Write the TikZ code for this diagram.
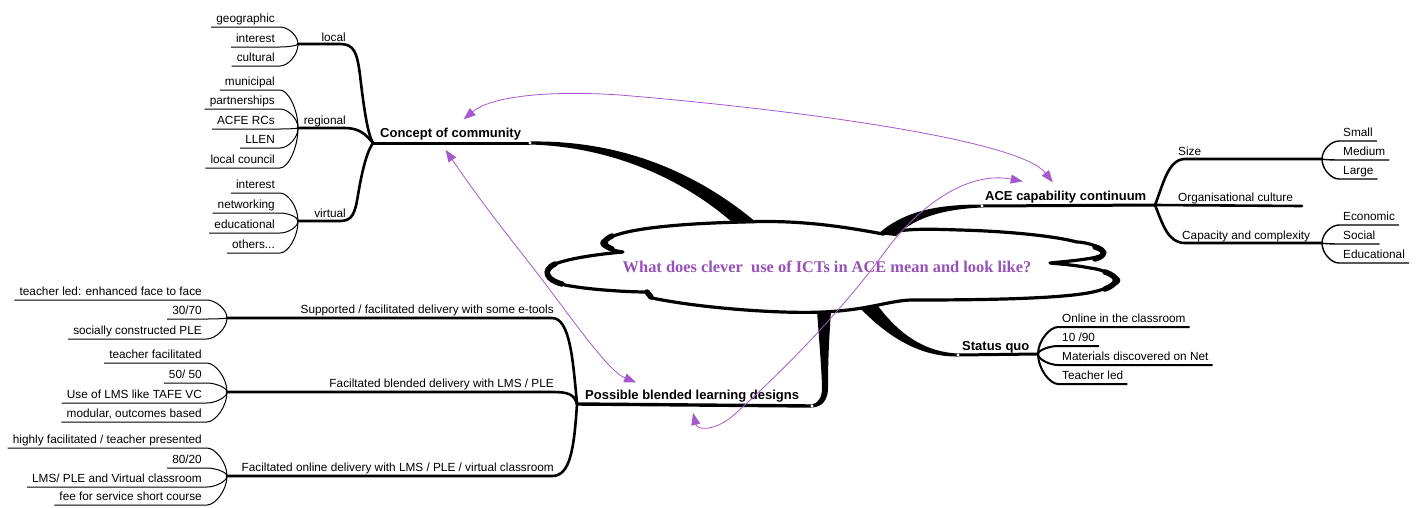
\documentclass[tikz,border=0pt]{standalone}
\usepackage{fontspec}
\setmainfont{Liberation Sans}
\newfontfamily\cloudfont{Liberation Serif}
\usetikzlibrary{arrows.meta, calc}
\definecolor{linkpurple}{RGB}{168, 88, 206}
\definecolor{askpurple}{RGB}{150, 82, 184}
\newcommand{\leaffont}{\fontsize{11.8}{14}\selectfont}
\newcommand{\topicfont}{\fontsize{13}{15}\selectfont\bfseries}

\tikzset{
  branch/.style={line width=2.6pt, line cap=round, line join=round},
  twig/.style={line width=1pt},
  twigr/.style={line width=1.4pt},
  lobe/.style={line width=5.5pt, line cap=round},
  leafl/.style={font=\leaffont, inner xsep=5pt, inner ysep=2pt, text height=8.5pt, text depth=2.5pt, anchor=south east},
  leafr/.style={font=\leaffont, inner xsep=4pt, inner ysep=2pt, text height=8.5pt, text depth=2.5pt, anchor=south west},
  sub/.style={font=\leaffont, inner sep=0pt},
  topic/.style={font=\topicfont, inner sep=0pt},
  link/.style={draw=linkpurple, line width=0.8pt, {Triangle[length=12pt,width=9pt]}-{Triangle[length=12pt,width=9pt]}}
}

\begin{document}
\begin{tikzpicture}[x=1pt, y=-1pt]
  \useasboundingbox[fill=white] (0,0) rectangle (1424,507);

  % cloud
  \draw[line width=3.2pt, line join=round]
    (883,234) .. controls (830,224) and (790,220) .. (743,222)
    .. controls (700,223) and (650,226) .. (623,233)
    .. controls (612,236) and (600,240) .. (602,244)
    .. controls (604,248) and (615,251) .. (623,252)
    .. controls (600,254) and (570,258) .. (555,264)
    .. controls (540,270) and (545,280) .. (565,285)
    .. controls (590,290) and (630,292) .. (647,292)
    .. controls (652,294) and (648,298) .. (652,298)
    .. controls (700,308) and (780,314) .. (823,312)
    .. controls (870,310) and (890,300) .. (913,300)
    .. controls (980,300) and (1060,299) .. (1093,292)
    .. controls (1110,288) and (1122,282) .. (1118,279)
    .. controls (1114,274) and (1100,269) .. (1090,268)
    .. controls (1075,265) and (1060,264) .. (1050,263)
    .. controls (1070,261) and (1108,258) .. (1105,252)
    .. controls (1100,246) and (1085,242) .. (1077,242)
    .. controls (1050,235) and (1000,231) .. (960,230)
    .. controls (930,229) and (905,228) .. (883,234) -- cycle;
  \draw[lobe] (612,236) .. controls (603,240) and (602,245) .. (612,249);
  \draw[lobe] (555,264) .. controls (542,270) and (546,280) .. (562,284);
  \draw[lobe] (647,292) -- (651,297);
  \draw[lobe] (1095,247) .. controls (1106,250) and (1106,256) .. (1095,259);
  \draw[lobe] (1105,272) .. controls (1120,277) and (1118,284) .. (1105,289);
  \node[font=\cloudfont\fontsize{16.4}{18}\selectfont\bfseries, text=askpurple] (ask) at (827,267) {What does clever~ use of ICTs in ACE mean and look like?};

  % main branches
  \fill (530,141.5) .. controls (625,140) and (700,175) .. (757,223) -- (733,223) .. controls (690,185) and (620,147) .. (530,144.5) -- cycle;
  \fill (878,234) .. controls (905,210) and (940,204.5) .. (982,204.5) -- (982,207.5) .. controls (945,209) and (915,217) .. (896,236) -- cycle;
  \fill (878,306) .. controls (900,335) and (925,352) .. (958,353.5) -- (958,356.5) .. controls (920,357) and (888,337) .. (860,308) -- cycle;
  \fill (817,311) .. controls (820,350) and (822,378) .. (822,388) .. controls (822,398) and (818,403) .. (812,404.5)
     -- (812,407.5) .. controls (822,407) and (828,400) .. (828,388) .. controls (828,360) and (829,340) .. (831,311) -- cycle;

  \coordinate (dcc) at (530,143);
  \coordinate (dace) at (982,206);
  \coordinate (dsq) at (958,355);
  \coordinate (dpb) at (812,406);
  \coordinate (jcc) at (373,143);
  \coordinate (jace) at (1155,205);
  \coordinate (jsq) at (1038,354);
  \coordinate (jpb) at (577,404);

  \draw[line width=3pt] (jcc) -- (dcc);
  \draw[line width=3pt] (dace) -- (jace);
  \draw[line width=3pt] (dsq) -- (jsq);
  \draw[line width=3.4pt] (dpb) -- (jpb);
  \foreach \d in {dcc, dace, dsq, dpb}
    \fill[white] (\d) circle (1.6);

  \node[topic, anchor=base west] (cc) at (380,137) {Concept of community};
  \node[topic, anchor=base west] (ace) at (985,200) {ACE capability continuum};
  \node[topic, anchor=base west] (sq) at (962,350) {Status quo};
  \node[topic, anchor=base west] (pb) at (585,399) {Possible blended learning designs};

  % concept of community
  \coordinate (jloc) at (298,44);
  \coordinate (jreg) at (298,128);
  \coordinate (jvir) at (298,221);
  \draw[branch] (jloc) -- (340,44) .. controls (354,44) and (357,52) .. (360,75) .. controls (364,110) and (368,135) .. (jcc);
  \draw[branch] (jreg) -- (345,128) .. controls (360,128) and (366,135) .. (jcc);
  \draw[branch] (jvir) -- (340,221) .. controls (352,221) and (355,214) .. (358,195) .. controls (363,165) and (368,150) .. (jcc);
  \node[sub, anchor=base east] (local) at (346,41) {local};
  \node[sub, anchor=base east] (regional) at (346,124) {regional};
  \node[sub, anchor=base east] (virtual) at (346,217) {virtual};

  \foreach \lbl/\y [count=\i] in {geographic/27, interest/47, cultural/66} {
    \node[leafl] (loc\i) at (280,\y) {\lbl};
    \draw[twig] (jloc) .. controls ($(jloc)!.5!(jloc |- loc\i.south east)$) and +(8,0) .. (loc\i.south east) -- (loc\i.south west);
  }
  \foreach \lbl/\y [count=\i] in {municipal/90, partnerships/109, ACFE RCs/129, LLEN/148, local council/168} {
    \node[leafl] (reg\i) at (280,\y) {\lbl};
    \draw[twig] (jreg) .. controls ($(jreg)!.5!(jreg |- reg\i.south east)$) and +(8,0) .. (reg\i.south east) -- (reg\i.south west);
  }
  \foreach \lbl/\y [count=\i] in {interest/193, networking/213, educational/233, {others.{}.{}.}/253} {
    \node[leafl] (vir\i) at (280,\y) {\lbl};
    \draw[twig] (jvir) .. controls ($(jvir)!.5!(jvir |- vir\i.south east)$) and +(8,0) .. (vir\i.south east) -- (vir\i.south west);
  }

  % ACE capability continuum
  \coordinate (jsize) at (1322,159);
  \coordinate (jcap) at (1322,243);
  \coordinate (eorg) at (1302,206);
  \draw[branch] (jace) .. controls (1163,185) and (1168,159) .. (1185,159) -- (jsize);
  \draw[branch] (jace) -- (eorg);
  \draw[branch] (jace) .. controls (1163,225) and (1168,243) .. (1185,243) -- (jcap);
  \node[sub, anchor=base west] (size) at (1178,155) {Size};
  \node[sub, anchor=base west] (org) at (1178,201) {Organisational culture};
  \node[sub, anchor=base west] (cap) at (1182,239) {Capacity and complexity};

  \foreach \lbl/\y [count=\i] in {Small/141, Medium/160, Large/179} {
    \node[leafr] (siz\i) at (1339,\y) {\lbl};
    \draw[twigr] (jsize) .. controls ($(jsize)!.5!(jsize |- siz\i.south west)$) and +(-8,0) .. (siz\i.south west) -- (siz\i.south east);
  }
  \foreach \lbl/\y [count=\i] in {Economic/225, Social/244, Educational/263} {
    \node[leafr] (cpx\i) at (1339,\y) {\lbl};
    \draw[twigr] (jcap) .. controls ($(jcap)!.5!(jcap |- cpx\i.south west)$) and +(-8,0) .. (cpx\i.south west) -- (cpx\i.south east);
  }

  % status quo
  \foreach \lbl/\y [count=\i] in {Online in the classroom/327, {10 /90}/346, Materials discovered on Net/365, Teacher led/384} {
    \node[leafr] (sq\i) at (1058,\y) {\lbl};
    \draw[line width=2pt] (jsq) .. controls ($(jsq)!.5!(jsq |- sq\i.south west)$) and +(-8,0) .. (sq\i.south west) -- (sq\i.south east);
  }

  % possible blended learning designs
  \coordinate (jsup) at (227,318);
  \coordinate (jfb) at (227,392);
  \coordinate (jfo) at (227,476);
  \draw[branch] (jpb) .. controls (573,360) and (570,318) .. (552,318) -- (jsup);
  \draw[branch] (jpb) .. controls (574,394) and (568,392) .. (552,392) -- (jfb);
  \draw[branch] (jpb) .. controls (574,450) and (570,476) .. (552,476) -- (jfo);
  \node[sub, anchor=base east] (sup) at (554,313) {Supported / facilitated delivery with some e-tools};
  \node[sub, anchor=base east] (fb) at (554,387) {Faciltated blended delivery with LMS / PLE};
  \node[sub, anchor=base east] (fo) at (554,471) {Faciltated online delivery with LMS / PLE / virtual classroom};

  \foreach \lbl/\y [count=\i] in {teacher led: enhanced face to face/300, {30/70}/319, socially constructed PLE/339} {
    \node[leafl] (sup\i) at (207,\y) {\lbl};
    \draw[twig] (jsup) .. controls ($(jsup)!.5!(jsup |- sup\i.south east)$) and +(8,0) .. (sup\i.south east) -- (sup\i.south west);
  }
  \foreach \lbl/\y [count=\i] in {teacher facilitated/363, {50/ 50}/383, Use of LMS like TAFE VC/403, {modular, outcomes based}/422} {
    \node[leafl] (fb\i) at (207,\y) {\lbl};
    \draw[twig] (jfb) .. controls ($(jfb)!.5!(jfb |- fb\i.south east)$) and +(8,0) .. (fb\i.south east) -- (fb\i.south west);
  }
  \foreach \lbl/\y [count=\i] in {{highly facilitated / teacher presented}/448, {80/20}/468, {LMS/ PLE and Virtual classroom}/487, fee for service short course/505} {
    \node[leafl] (fo\i) at (207,\y) {\lbl};
    \draw[twig] (jfo) .. controls ($(jfo)!.5!(jfo |- fo\i.south east)$) and +(8,0) .. (fo\i.south east) -- (fo\i.south west);
  }

  % links
  \draw[link] ([xshift=13pt,yshift=8pt]cc.north) .. controls (490,97) and (545,90) .. (620,95)
    .. controls (800,110) and (1020,140) .. ([xshift=-13pt,yshift=8pt]ace.north);
  \draw[link] ([xshift=-5pt,yshift=-10pt]cc.south) .. controls (490,215) and (520,250) .. (550,290)
    .. controls (580,330) and (610,372) .. ([xshift=-56pt,yshift=7pt]pb.north);
  \draw[link] ([xshift=1pt,yshift=-11pt]pb.south) .. controls (697,430) and (715,432) .. (735,414)
    .. controls (800,355) and (850,300) .. (890,245)
    .. controls (930,195) and (975,172) .. ([xshift=-43pt,yshift=9pt]ace.north);
\end{tikzpicture}
\end{document}
